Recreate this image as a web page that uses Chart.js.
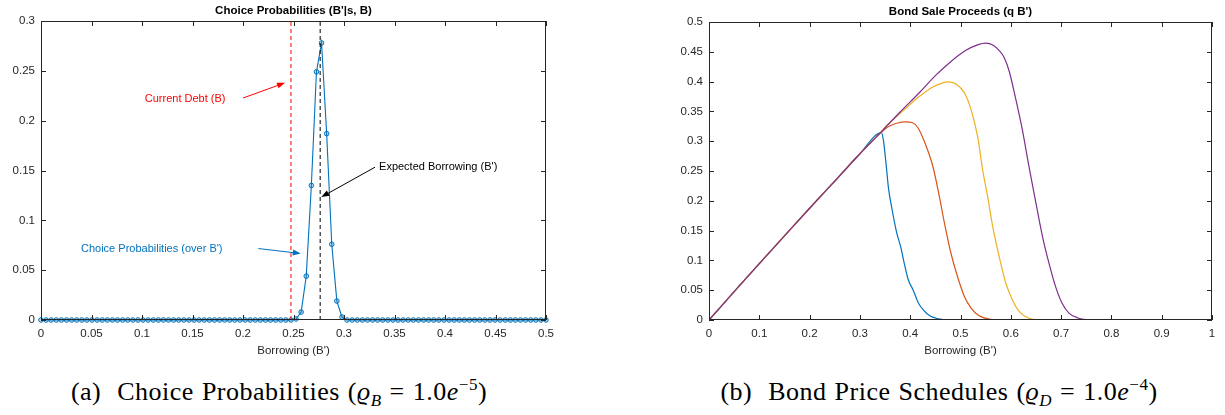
<!DOCTYPE html>
<html>
<head>
<meta charset="utf-8">
<script src="https://cdn.jsdelivr.net/npm/chart.js@4.4.1/dist/chart.umd.min.js"></script>
<style>
  body { margin: 0; background: #fff; width: 1225px; height: 415px; position: relative; overflow: hidden; }
  .plot { position: absolute; top: 0; height: 360px; }
  .cap { position: absolute; top: 370px; text-align: center; font-family: "Liberation Serif", "DejaVu Serif", serif; font-size: 26px; letter-spacing: 0.5px; word-spacing: 1px; line-height: 30px; color: #000; white-space: nowrap; }
  .cap sub, .cap sup { font-size: 17px; }
</style>
</head>
<body>
<div class="plot" style="left:0;width:560px"><canvas id="left" width="560" height="360"></canvas></div>
<div class="plot" style="left:660px;width:565px"><canvas id="right" width="565" height="360"></canvas></div>
<div class="cap" style="left:0;width:558px">(a)&nbsp; Choice Probabilities (<i>ϱ<sub>B</sub></i> = 1.0<i>e</i><sup>−5</sup>)</div>
<div class="cap" style="left:660px;width:558px">(b)&nbsp; Bond Price Schedules (<i>ϱ<sub>D</sub></i> = 1.0<i>e</i><sup>−4</sup>)</div>
<script>
// ---- left panel: choice probabilities over a 100 point grid on [0, 0.5]
const gridSize = 100;
const borrowGrid = Array.from({ length: gridSize }, (_, i) => i * 0.5 / (gridSize - 1));
const choiceProb = [
  0, 0, 0, 0, 0, 0, 0, 0, 0, 0,
  0, 0, 0, 0, 0, 0, 0, 0, 0, 0,
  0, 0, 0, 0, 0, 0, 0, 0, 0, 0,
  0, 0, 0, 0, 0, 0, 0, 0, 0, 0,
  0, 0, 0, 0, 0, 0, 0, 0, 0, 0,
  0.001, 0.008, 0.044, 0.135, 0.249, 0.278, 0.187, 0.076, 0.019, 0.003,
  0, 0, 0, 0, 0, 0, 0, 0, 0, 0,
  0, 0, 0, 0, 0, 0, 0, 0, 0, 0,
  0, 0, 0, 0, 0, 0, 0, 0, 0, 0,
  0, 0, 0, 0, 0, 0, 0, 0, 0, 0
];
const currentDebt = 0.2475;
const expectedBorrowing = 0.2764;
const leftXTicks = [0, 0.05, 0.1, 0.15, 0.2, 0.25, 0.3, 0.35, 0.4, 0.45, 0.5];
const leftYTicks = [0, 0.05, 0.1, 0.15, 0.2, 0.25, 0.3];

// ---- right panel: bond sale proceeds q(B')B' for four schedules
const blueX = [0, 0.05, 0.1, 0.15, 0.2, 0.25, 0.3, 0.343, 0.347, 0.352, 0.357, 0.363, 0.373, 0.381, 0.389, 0.396, 0.406, 0.416, 0.426, 0.439, 0.456, 0.48, 0.52, 1];
const blueY = [0, 0.0475, 0.0945, 0.141, 0.1875, 0.233, 0.279, 0.3145, 0.300, 0.262, 0.220, 0.190, 0.147, 0.123, 0.092, 0.068, 0.050, 0.029, 0.017, 0.007, 0.002, 0.0003, 0, 0];
const redX = [0, 0.05, 0.1, 0.15, 0.2, 0.25, 0.3, 0.34, 0.35, 0.36, 0.375, 0.39, 0.405, 0.415, 0.428, 0.445, 0.458, 0.468, 0.481, 0.494, 0.508, 0.521, 0.537, 0.557, 0.59, 1];
const redY = [0, 0.0475, 0.0945, 0.141, 0.1875, 0.233, 0.279, 0.313, 0.3205, 0.326, 0.3305, 0.3325, 0.331, 0.323, 0.300, 0.258, 0.207, 0.163, 0.112, 0.073, 0.039, 0.020, 0.007, 0.0015, 0, 0];
const yellowX = [0, 0.05, 0.1, 0.15, 0.2, 0.25, 0.3, 0.34, 0.353, 0.379, 0.4, 0.418, 0.445, 0.462, 0.475, 0.491, 0.508, 0.521, 0.534, 0.544, 0.554, 0.564, 0.577, 0.59, 0.603, 0.617, 0.636, 0.665, 1];
const yellowY = [0, 0.0475, 0.0945, 0.141, 0.1875, 0.233, 0.279, 0.3135, 0.326, 0.346, 0.362, 0.375, 0.391, 0.397, 0.3995, 0.396, 0.381, 0.353, 0.308, 0.252, 0.207, 0.157, 0.106, 0.062, 0.034, 0.014, 0.003, 0, 0];
const purpleX = [0, 0.05, 0.1, 0.15, 0.2, 0.25, 0.3, 0.34, 0.38, 0.42, 0.45, 0.48, 0.51, 0.535, 0.55, 0.565, 0.577, 0.587, 0.597, 0.61, 0.623, 0.636, 0.65, 0.663, 0.676, 0.689, 0.702, 0.716, 0.735, 0.76, 0.8, 1];
const purpleY = [0, 0.0475, 0.0945, 0.141, 0.1875, 0.233, 0.279, 0.3135, 0.349, 0.383, 0.41, 0.433, 0.452, 0.462, 0.4645, 0.461, 0.452, 0.44, 0.417, 0.37, 0.319, 0.258, 0.196, 0.14, 0.095, 0.056, 0.028, 0.011, 0.003, 0.0005, 0, 0];
const rightXTicks = [0, 0.1, 0.2, 0.3, 0.4, 0.5, 0.6, 0.7, 0.8, 0.9, 1];
const rightYTicks = [0, 0.05, 0.1, 0.15, 0.2, 0.25, 0.3, 0.35, 0.4, 0.45, 0.5];

const FONT = '"Liberation Sans", Arial, Helvetica, sans-serif';
const AXIS = '#262626';
const pts = (xs, ys) => xs.map((x, i) => ({ x: x, y: ys[i] }));

// box with inward ticks, title and text/arrow annotations (matlab style)
const boxPlugin = {
  id: 'box',
  afterDraw(chart, args, opts) {
    const { ctx, chartArea: a, scales } = chart;
    const xs = scales.x, ys = scales.y;
    ctx.save();
    ctx.strokeStyle = AXIS;
    ctx.lineWidth = 1;
    ctx.strokeRect(a.left + 0.5, a.top + 0.5, a.right - a.left - 1, a.bottom - a.top - 1);
    ctx.beginPath();
    xs.ticks.forEach(t => {
      const px = Math.round(xs.getPixelForValue(t.value)) + 0.5;
      ctx.moveTo(px, a.bottom); ctx.lineTo(px, a.bottom - 5);
      ctx.moveTo(px, a.top); ctx.lineTo(px, a.top + 5);
    });
    ys.ticks.forEach(t => {
      const py = Math.round(ys.getPixelForValue(t.value)) + 0.5;
      ctx.moveTo(a.left, py); ctx.lineTo(a.left + 5, py);
      ctx.moveTo(a.right, py); ctx.lineTo(a.right - 5, py);
    });
    ctx.stroke();

    ctx.fillStyle = '#000';
    ctx.font = 'bold 11.5px ' + FONT;
    ctx.textAlign = 'center';
    ctx.textBaseline = 'middle';
    ctx.fillText(opts.title, (a.left + a.right) / 2, a.top - 10);

    (opts.notes || []).forEach(n => {
      ctx.fillStyle = n.color;
      ctx.strokeStyle = n.color;
      ctx.font = '11px ' + FONT;
      ctx.textAlign = n.align;
      ctx.fillText(n.text, xs.getPixelForValue(n.at[0]), ys.getPixelForValue(n.at[1]));
      const x0 = xs.getPixelForValue(n.from[0]), y0 = ys.getPixelForValue(n.from[1]);
      const x1 = xs.getPixelForValue(n.to[0]), y1 = ys.getPixelForValue(n.to[1]);
      const ang = Math.atan2(y1 - y0, x1 - x0);
      ctx.lineWidth = 1;
      ctx.beginPath();
      ctx.moveTo(x0, y0);
      ctx.lineTo(x1 - 6 * Math.cos(ang), y1 - 6 * Math.sin(ang));
      ctx.stroke();
      ctx.beginPath();
      ctx.moveTo(x1, y1);
      ctx.lineTo(x1 - 8 * Math.cos(ang) + 3 * Math.sin(ang), y1 - 8 * Math.sin(ang) - 3 * Math.cos(ang));
      ctx.lineTo(x1 - 8 * Math.cos(ang) - 3 * Math.sin(ang), y1 - 8 * Math.sin(ang) + 3 * Math.cos(ang));
      ctx.closePath();
      ctx.fill();
    });
    ctx.restore();
  }
};

function axis(min, max, ticks, fitKey, fitSize, title) {
  const s = {
    type: 'linear', min: min, max: max,
    grid: { display: false }, border: { display: false },
    afterBuildTicks: sc => { sc.ticks = ticks.map(v => ({ value: v })); },
    afterFit: sc => { sc[fitKey] = fitSize; },
    ticks: { color: AXIS, font: { family: FONT, size: 11.5 }, padding: fitKey === 'height' ? -1 : -2, maxRotation: 0,
             callback: v => String(+v.toFixed(3)) }
  };
  if (title) s.title = { display: true, text: title, color: AXIS, font: { family: FONT, size: 11.5 }, padding: { top: 0, bottom: 2 } };
  return s;
}

Chart.defaults.animation = false;
Chart.defaults.plugins.legend.display = false;
Chart.defaults.plugins.tooltip.enabled = false;

new Chart(document.getElementById('left'), {
  type: 'scatter',
  data: {
    datasets: [
      { data: pts([currentDebt, currentDebt], [0, 0.3]), showLine: true, borderColor: '#ff0000', borderWidth: 1, borderDash: [4, 3], pointRadius: 0 },
      { data: pts([expectedBorrowing, expectedBorrowing], [0, 0.3]), showLine: true, borderColor: '#000', borderWidth: 1, borderDash: [4, 3], pointRadius: 0 },
      { data: pts(borrowGrid, choiceProb), showLine: true, borderColor: '#0072BD', borderWidth: 1.1,
        pointRadius: 2.3, pointBorderWidth: 1, pointBorderColor: '#0072BD', pointBackgroundColor: 'rgba(0,114,189,0.25)', clip: false }
    ]
  },
  options: {
    responsive: false,
    layout: { padding: { top: 21, right: 14, left: 0, bottom: 0 } },
    scales: {
      x: axis(0, 0.5, leftXTicks, 'height', 40, "Borrowing (B')"),
      y: axis(0, 0.3, leftYTicks, 'width', 41)
    },
    plugins: {
      box: {
        title: "Choice Probabilities (B'|s, B)",
        notes: [
          { text: 'Current Debt (B)', color: '#ff0000', align: 'center', at: [0.1427, 0.222], from: [0.2, 0.2227], to: [0.2416, 0.238] },
          { text: "Expected Borrowing (B')", color: '#000', align: 'left', at: [0.3347, 0.1533], from: [0.3307, 0.1533], to: [0.2775, 0.1233] },
          { text: "Choice Probabilities (over B')", color: '#0072BD', align: 'left', at: [0.0396, 0.071], from: [0.2152, 0.0717], to: [0.2572, 0.0667] }
        ]
      }
    }
  },
  plugins: [boxPlugin]
});

const curve = (xs, ys, color, order) => ({
  data: pts(xs, ys), showLine: true, borderColor: color, borderWidth: 1.2, pointRadius: 0,
  cubicInterpolationMode: 'monotone', order: order
});

new Chart(document.getElementById('right'), {
  type: 'scatter',
  data: {
    datasets: [
      curve(blueX, blueY, '#0072BD', 4),
      curve(redX, redY, '#D95319', 3),
      curve(yellowX, yellowY, '#EDB120', 2),
      curve(purpleX, purpleY, '#7E2F8E', 1)
    ]
  },
  options: {
    responsive: false,
    layout: { padding: { top: 22, right: 13, left: 0, bottom: 0 } },
    scales: {
      x: axis(0, 1, rightXTicks, 'height', 40, "Borrowing (B')"),
      y: axis(0, 0.5, rightYTicks, 'width', 49)
    },
    plugins: { box: { title: "Bond Sale Proceeds (q B')" } }
  },
  plugins: [boxPlugin]
});
</script>
</body>
</html>
